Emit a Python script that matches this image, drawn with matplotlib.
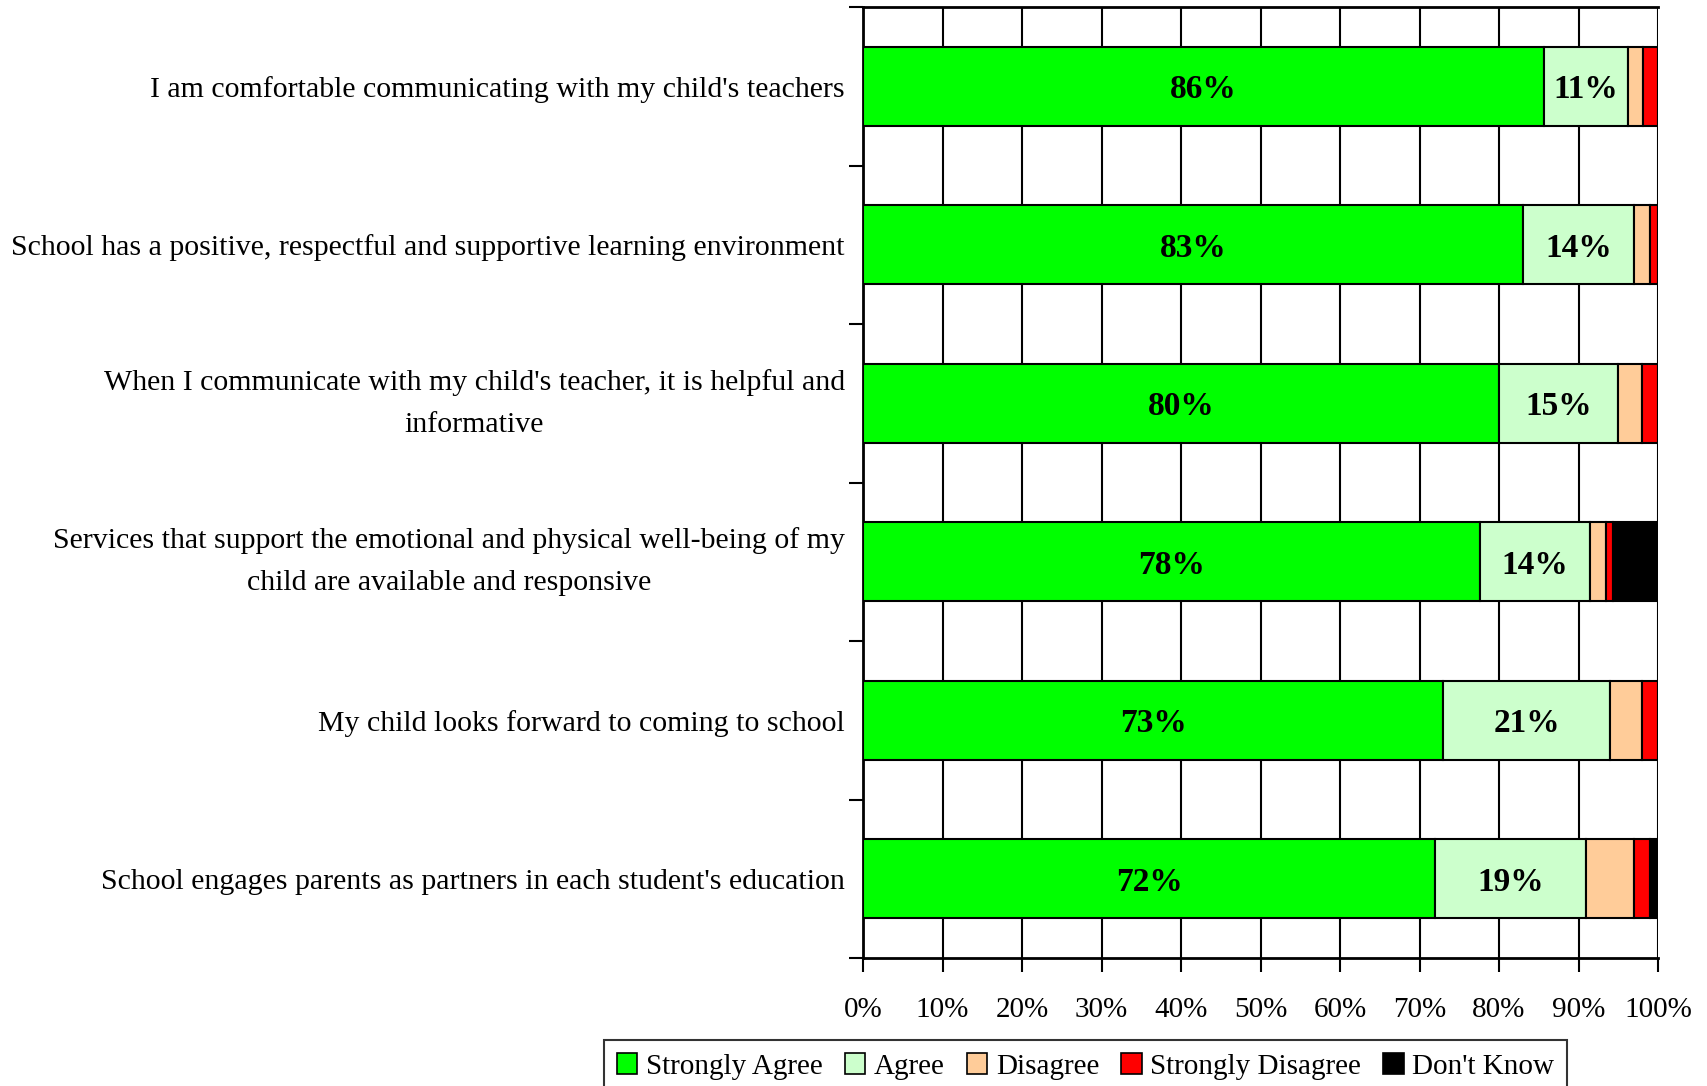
import matplotlib
matplotlib.use("Agg")
import matplotlib.pyplot as plt
import numpy as np
from matplotlib.patches import Patch

plt.rcParams['font.family'] = ['Liberation Serif', 'DejaVu Serif']

categories = [
    "I am comfortable communicating with my child's teachers",
    "School has a positive, respectful and supportive learning environment",
    "When I communicate with my child's teacher, it is helpful and\ninformative",
    "Services that support the emotional and physical well-being of my\nchild are available and responsive",
    "My child looks forward to coming to school",
    "School engages parents as partners in each student's education",
]
strongly_agree = [85.6, 83.0, 80.0, 77.6, 73.0, 72.0]
agree = [10.6, 14.0, 15.0, 13.8, 21.0, 19.0]
disagree = [1.9, 2.0, 3.0, 2.0, 4.0, 6.0]
strongly_disagree = [1.9, 1.0, 2.0, 1.0, 2.0, 2.0]
dont_know = [0.0, 0.0, 0.0, 5.6, 0.0, 1.0]
series_names = ["Strongly Agree", "Agree", "Disagree", "Strongly Disagree", "Don't Know"]
colors = ["#00FF00", "#CCFFCC", "#FFCC99", "#FF0000", "#000000"]
x_ticks = [0, 10, 20, 30, 40, 50, 60, 70, 80, 90, 100]
x_tick_labels = ["0%", "10%", "20%", "30%", "40%", "50%", "60%", "70%", "80%", "90%", "100%"]

series = [strongly_agree, agree, disagree, strongly_disagree, dont_know]

fig = plt.figure(figsize=(17.07, 10.86), dpi=100)
ax = fig.add_axes([863/1707, 128/1086, (1658-863)/1707, (1079-128)/1086])

y = np.arange(len(categories))
left = np.zeros(len(categories))
for vals, col, name in zip(series, colors, series_names):
    vals = np.array(vals)
    ax.barh(y, vals, left=left, height=0.5, color=col, edgecolor='black',
            linewidth=1.5, zorder=3, label=name)
    if name in ("Strongly Agree", "Agree"):
        for yi, l, v in zip(y, left, vals):
            ax.text(l + v / 2, yi, f"{round(v):d}%", ha='center', va='center_baseline',
                    fontsize=24, fontweight='bold', zorder=4)
    left = left + vals

ax.set_xlim(0, 100)
ax.set_ylim(len(categories) - 0.5, -0.5)
ax.set_xticks(x_ticks)
ax.set_xticklabels(x_tick_labels, fontsize=21)
ax.tick_params(axis='x', direction='out', length=10, width=1.5, pad=18)

# major y ticks at category boundaries, labels at centers via minor ticks
ax.set_yticks(np.arange(-0.5, len(categories), 1.0))
ax.set_yticklabels([])
ax.tick_params(axis='y', which='major', direction='out', length=10, width=1.5)
ax.set_yticks(y, minor=True)
ax.set_yticklabels(categories, minor=True, fontsize=21.5)
ax.tick_params(axis='y', which='minor', length=0, pad=13)
for t in ax.get_yticklabels(minor=True):
    t.set_multialignment('center')
    t.set_linespacing(1.8)
    if "\n" in t.get_text():
        t.set_verticalalignment('center')

ax.xaxis.grid(True, color='black', linewidth=1.5, zorder=0)
ax.set_axisbelow(True)
for s in ax.spines.values():
    s.set_linewidth(2)
    s.set_color('black')
ax.spines['right'].set_visible(False)

handles = [Patch(facecolor=c, edgecolor='black', linewidth=1.2) for c in colors]
leg = fig.legend(handles, series_names, loc='upper center', ncol=5,
                 bbox_to_anchor=(0.636, 46/1086), borderaxespad=0, fontsize=21,
                 frameon=True, fancybox=False, edgecolor='black',
                 handlelength=0.7, handleheight=0.7, handletextpad=0.3,
                 columnspacing=0.75, borderpad=0.45)
leg.get_frame().set_linewidth(1.5)

fig.savefig("out.png", dpi=100)
